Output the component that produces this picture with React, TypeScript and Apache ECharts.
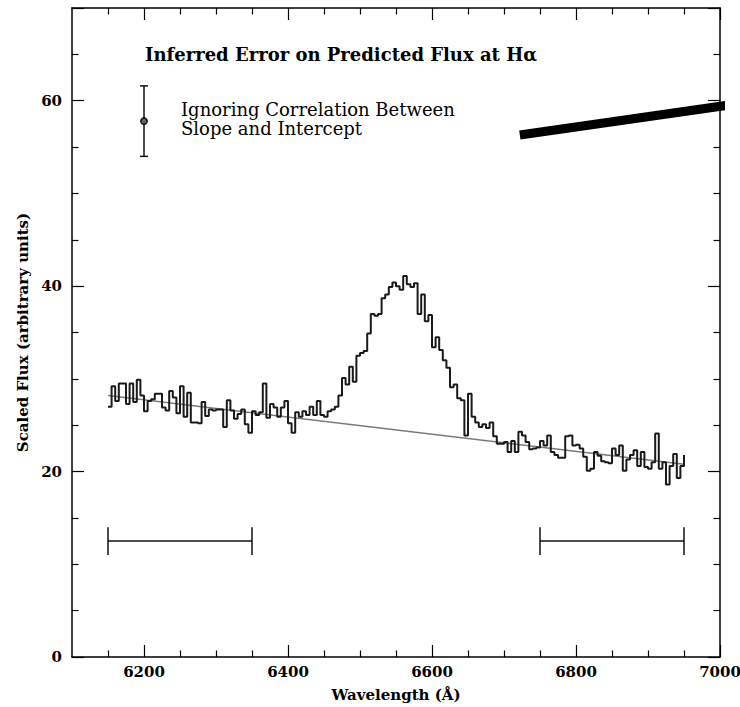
import React, { useEffect, useRef } from "react";
import * as echarts from "echarts";

// Spectrum: 5 Å bins starting at 6150 Å
const WAVE_START = 6150;
const BIN_WIDTH = 5;
const fluxes = [
  27.0, 29.2, 27.6, 29.5, 29.5, 27.3, 29.5, 27.5, 29.9, 28.2,
  26.5, 27.6, 27.8, 28.4, 28.4, 26.9, 26.6, 28.7, 28.0, 26.3,
  29.2, 25.9, 28.5, 25.3, 25.3, 25.2, 27.5, 26.0, 26.7, 26.6,
  26.7, 26.7, 24.8, 27.7, 26.6, 25.7, 26.2, 26.7, 25.1, 24.2,
  26.5, 26.1, 26.4, 29.5, 25.8, 27.3, 26.9, 25.9, 26.9, 27.6,
  25.2, 24.2, 26.4, 25.9, 26.5, 26.1, 27.0, 26.1, 27.6, 26.1,
  25.9, 26.5, 26.7, 27.0, 28.2, 30.1, 29.4, 31.3, 29.7, 32.5,
  32.8, 33.0, 34.9, 37.0, 36.8, 37.0, 38.7, 39.1, 39.9, 40.4,
  40.0, 39.6, 41.1, 40.2, 39.9, 40.3, 37.0, 39.1, 36.2, 36.9,
  33.4, 34.5, 33.1, 32.0, 31.2, 29.1, 29.4, 27.9, 27.7, 23.9,
  28.4, 25.9, 25.3, 24.8, 25.1, 24.7, 25.3, 23.8, 23.0, 23.0,
  23.2, 22.1, 23.3, 22.1, 24.3, 23.9, 23.2, 22.4, 22.5, 22.6,
  23.3, 22.8, 23.9, 22.1, 21.8, 21.5, 21.5, 23.8, 23.9, 22.8,
  22.9, 22.5, 21.6, 20.1, 20.3, 22.1, 21.7, 21.1, 21.0, 20.9,
  22.5, 21.8, 22.8, 20.1, 21.3, 21.8, 22.3, 20.6, 22.1, 20.5,
  20.3, 21.0, 24.1, 20.3, 21.0, 18.6, 20.6, 21.9, 19.3, 20.6,
];
const finalEdgeFlux = 21.8;

// Fitted continuum
const continuumWave = [6150, 6950];
const continuumFlux = [28.2, 20.8];

// Continuum windows
const windowRanges = [
  [6150, 6350],
  [6750, 6950],
];
const windowLevel = 12.5;

// Error bar
const errWave = 6200;
const errFlux = 57.8;
const errLow = 54.0;
const errHigh = 61.6;

// Thick slope line
const slopeWave = [6722, 7028];
const slopeFlux = [56.3, 59.7];

// Axes
const X_MIN = 6100;
const X_MAX = 7000;
const xMajorTicks = [6200, 6400, 6600, 6800, 7000];
const X_MINOR_STEP = 50;
const yTicks = { min: 0, max: 70, interval: 20 };

const FONT = '"DejaVu Serif", serif';

export default function App() {
  const ref = useRef<HTMLDivElement>(null);
  useEffect(() => {
    if (!ref.current) return;
    const chart = echarts.init(ref.current, null, { renderer: "svg" });

    const specData: number[][] = fluxes.map((v, i) => [WAVE_START + i * BIN_WIDTH, v]);
    specData.push([WAVE_START + fluxes.length * BIN_WIDTH, finalEdgeFlux]);

    const xMinorTicks: number[] = [];
    for (let v = X_MIN + X_MINOR_STEP; v < X_MAX; v += X_MINOR_STEP) {
      if (!xMajorTicks.includes(v)) xMinorTicks.push(v);
    }

    const axisLine = { show: true, onZero: false, lineStyle: { color: "#000", width: 1.5 } };
    const tickStyle = { color: "#000", width: 1.2 };
    const tick = { show: true, inside: true, length: 12, lineStyle: tickStyle };
    const minor = { show: true, splitNumber: 4, length: 6.5, lineStyle: tickStyle };
    const label = { color: "#000", fontFamily: FONT, fontWeight: "bold" as const, fontSize: 15 };

    const xMajorAxis = (pos: string, withLabels: boolean) => ({
      type: "value",
      min: X_MIN,
      max: X_MAX,
      position: pos,
      axisLine,
      axisTick: { ...tick, customValues: xMajorTicks },
      axisLabel: withLabels
        ? { ...label, margin: 7, customValues: xMajorTicks, formatter: (v: number) => String(v) }
        : { show: false },
      splitLine: { show: false },
    });
    const xMinorAxis = (pos: string) => ({
      type: "value",
      min: X_MIN,
      max: X_MAX,
      position: pos,
      offset: 0,
      axisLine: { show: false, onZero: false },
      axisTick: { show: true, inside: true, length: 6.5, lineStyle: tickStyle, customValues: xMinorTicks },
      axisLabel: { show: false },
      splitLine: { show: false },
    });

    chart.setOption({
      animation: false,
      grid: { left: 72, right: 20, top: 8, bottom: 50, outerBoundsMode: "none", containLabel: false },
      xAxis: [
        {
          ...xMajorAxis("bottom", true),
          name: "Wavelength (Å)",
          nameLocation: "middle",
          nameGap: 30,
          nameTextStyle: { ...label },
        },
        xMinorAxis("bottom"),
        xMajorAxis("top", false),
        xMinorAxis("top"),
      ],
      yAxis: [
        {
          type: "value",
          min: yTicks.min,
          max: yTicks.max,
          interval: yTicks.interval,
          position: "left",
          name: "Scaled Flux (arbitrary units)",
          nameLocation: "middle",
          nameGap: 35,
          nameTextStyle: { ...label },
          axisLine,
          axisTick: tick,
          minorTick: minor,
          axisLabel: { ...label, margin: 10, showMaxLabel: false },
          splitLine: { show: false },
        },
        {
          type: "value",
          min: yTicks.min,
          max: yTicks.max,
          interval: yTicks.interval,
          position: "right",
          axisLine,
          axisTick: tick,
          minorTick: minor,
          axisLabel: { show: false },
          splitLine: { show: false },
        },
      ],
      graphic: [
        {
          type: "text",
          left: 145,
          top: 45,
          style: {
            text: "Inferred Error on Predicted Flux at Hα",
            font: `bold 18px ${FONT}`,
            fill: "#000",
          },
        },
        {
          type: "text",
          left: 181,
          top: 100,
          style: {
            text: "Ignoring Correlation Between",
            font: `18px ${FONT}`,
            fill: "#000",
          },
        },
        {
          type: "text",
          left: 181,
          top: 119,
          style: {
            text: "Slope and Intercept",
            font: `18px ${FONT}`,
            fill: "#000",
          },
        },
      ],
      series: [
        {
          type: "line",
          step: "end",
          data: specData,
          symbol: "none",
          lineStyle: { color: "#1a1a1a", width: 2 },
          z: 3,
        },
        {
          type: "line",
          data: continuumWave.map((w, i) => [w, continuumFlux[i]]),
          symbol: "none",
          lineStyle: { color: "#7a7a7a", width: 1.5 },
          z: 2,
        },
        {
          type: "custom",
          data: windowRanges.map((r) => [r[0], r[1], windowLevel]),
          encode: { x: [0, 1], y: 2 },
          renderItem: (params: any, api: any) => {
            const y = api.value(2);
            const a = api.coord([api.value(0), y]);
            const b = api.coord([api.value(1), y]);
            const top = api.coord([api.value(0), y + 1.5]);
            const bot = api.coord([api.value(0), y - 1.5]);
            const style = { stroke: "#111", lineWidth: 1.5 };
            return {
              type: "group",
              children: [
                { type: "line", shape: { x1: a[0], y1: a[1], x2: b[0], y2: b[1] }, style },
                { type: "line", shape: { x1: a[0], y1: top[1], x2: a[0], y2: bot[1] }, style },
                { type: "line", shape: { x1: b[0], y1: top[1], x2: b[0], y2: bot[1] }, style },
              ],
            };
          },
        },
        {
          type: "custom",
          data: [[errWave, errFlux, errLow, errHigh]],
          encode: { x: 0, y: [1, 2, 3] },
          renderItem: (params: any, api: any) => {
            const c = api.coord([api.value(0), api.value(1)]);
            const lo = api.coord([api.value(0), api.value(2)]);
            const hi = api.coord([api.value(0), api.value(3)]);
            const style = { stroke: "#111", lineWidth: 1.5 };
            return {
              type: "group",
              children: [
                { type: "line", shape: { x1: lo[0], y1: lo[1], x2: hi[0], y2: hi[1] }, style },
                { type: "line", shape: { x1: lo[0] - 4, y1: lo[1], x2: lo[0] + 4, y2: lo[1] }, style },
                { type: "line", shape: { x1: hi[0] - 4, y1: hi[1], x2: hi[0] + 4, y2: hi[1] }, style },
                { type: "circle", shape: { cx: c[0], cy: c[1], r: 3.2 }, style: { fill: "#666", stroke: "#111", lineWidth: 1.5 } },
              ],
            };
          },
        },
        {
          type: "line",
          data: slopeWave.map((w, i) => [w, slopeFlux[i]]),
          symbol: "none",
          clip: false,
          lineStyle: { color: "#000", width: 9, cap: "butt" },
          z: 4,
        },
      ],
    });
    return () => chart.dispose();
  }, []);
  return (
    <div
      ref={ref}
      style={{ position: "fixed", left: 0, top: 0, width: 740, height: 707, background: "#fff" }}
    />
  );
}
